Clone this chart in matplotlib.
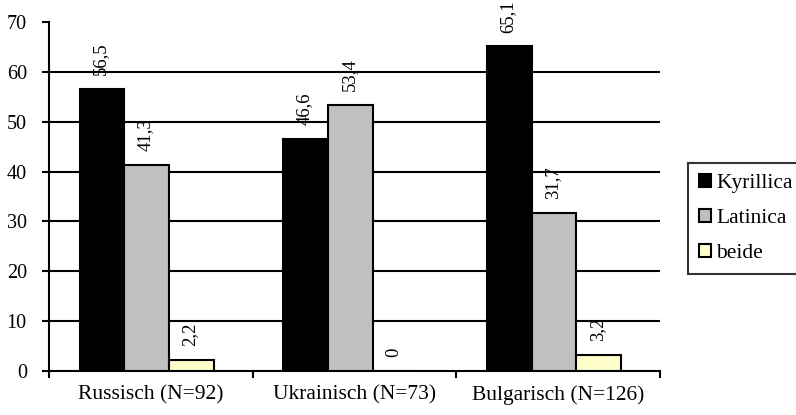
import matplotlib
matplotlib.use("Agg")
import matplotlib.pyplot as plt
import numpy as np

categories = ["Russisch (N=92)", "Ukrainisch (N=73)", "Bulgarisch (N=126)"]
series_names = ["Kyrillica", "Latinica", "beide"]
kyrillica = [56.5, 46.6, 65.1]
latinica = [41.3, 53.4, 31.7]
beide = [2.2, 0, 3.2]
colors = ["#000000", "#C0C0C0", "#FFFFCC"]

plt.rcParams['font.family'] = ['Liberation Serif', 'DejaVu Serif']

W, H = 796, 415
fig = plt.figure(figsize=(W/100, H/100), dpi=100)
ax = fig.add_axes([49/W, (H-371)/H, (660-49)/W, (371-22)/H])

bw = 0.22
x = np.arange(len(categories))
for j, (vals, name, c) in enumerate(zip([kyrillica, latinica, beide], series_names, colors)):
    left = x - 0.5 + 0.15 + j*bw
    bars = ax.bar(left, vals, width=bw, align='edge', color=c, edgecolor='black',
                  linewidth=1.5, label=name, zorder=3)
    for b, v in zip(bars, vals):
        ax.annotate(f"{v:g}".replace(".", ","), (b.get_x() + b.get_width()/2, v),
                    xytext=(-1, 10), textcoords='offset points', rotation=90,
                    ha='center', va='bottom', fontsize=13.5)

ax.set_ylim(0, 70)
ax.set_xlim(-0.5, 2.5)
ax.set_yticks(range(0, 71, 10))
for yv in range(10, 61, 10):
    ax.axhline(yv, color='black', linewidth=1.5, zorder=1)

ax.set_xticks(x)
ax.set_xticklabels(categories, fontsize=15.5)
ax.set_xticks([-0.5, 0.5, 1.5, 2.5], minor=True)
ax.tick_params(axis='x', which='major', length=0, pad=10)
ax.tick_params(axis='x', which='minor', length=5, width=1.5, direction='out')
ax.tick_params(axis='y', labelsize=14.5, length=5, width=1.5, pad=11)

for s in ['top', 'right']:
    ax.spines[s].set_visible(False)
for s in ['left', 'bottom']:
    ax.spines[s].set_linewidth(1.5)

leg = fig.legend(loc='upper left', bbox_to_anchor=(688/W, 1 - 163/H), fontsize=15.5,
                 frameon=True, fancybox=False, edgecolor='black', handlelength=0.55,
                 handleheight=0.55, handletextpad=0.25, borderpad=0.5, labelspacing=0.75,
                 borderaxespad=0)
leg.get_frame().set_linewidth(1.5)

fig.savefig("out.png", dpi=100)
